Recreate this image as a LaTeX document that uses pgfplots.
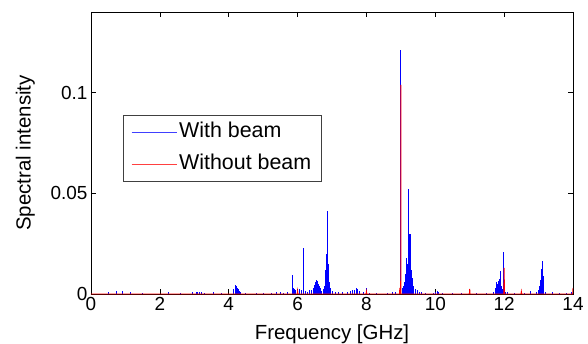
\documentclass[border=0pt]{standalone}
\usepackage{pgfplots}
\pgfplotsset{compat=1.18}
\usepackage{fontspec}
\setmainfont{Liberation Sans}
\begin{document}
\begin{tikzpicture}
\begin{axis}[
  scale only axis, width=482bp, height=282bp,
  xmin=0, xmax=14, ymin=0, ymax=0.14,
  xtick={0,2,4,6,8,10,12,14},
  ytick={0,0.05,0.1}, yticklabels={0,0.05,0.1},
  scaled y ticks=false,
  tick align=inside, major tick length=5bp,
  tick style={black, line width=0.5pt},
  axis line style={line width=0.6pt},
  tick label style={font=\fontsize{19}{21}\selectfont},
  /pgf/number format/assume math mode=true,
  xlabel={Frequency [GHz]}, ylabel={Spectral intensity},
  xlabel style={font=\fontsize{20.5}{23}\selectfont, at={(axis description cs:0.5,0)}, anchor=base, yshift=-45bp, inner sep=0pt},
  ylabel style={font=\fontsize{20.5}{23}\selectfont, at={(axis description cs:-0.1253,0.5)}, anchor=base, inner sep=0pt},
  legend style={at={(axis description cs:0.0664,0.635)}, anchor=north west,
    font=\fontsize{21.5}{24}\selectfont, draw=black!75, line width=0.6pt,
    inner xsep=8bp, inner ysep=5.5bp, row sep=9bp,
    nodes={text height=15bp, text depth=4bp, inner sep=2bp}},
  legend cell align=left,
  clip=true,
]
\addplot[blue, ycomb, line width=0.9pt, forget plot] coordinates {
(0.5,0.0012)(0.75,0.0015)(0.9,0.0013)(1.15,0.0010)(1.5,0.0005)(2.25,0.0010)(2.6,0.0004)
(2.95,0.0008)(3.05,0.0012)(3.1,0.0010)(3.15,0.0008)(3.2,0.0011)(3.3,0.0006)(3.55,0.0009)
(3.8,0.0005)(4.15,0.0025)(4.2,0.0045)(4.22,0.0040)(4.25,0.0032)(4.28,0.0025)(4.3,0.0015)
(4.35,0.0010)(4.5,0.0004)(4.8,0.0007)(5.0,0.0005)(5.25,0.0006)(5.4,0.0008)(5.5,0.0009)
(5.6,0.0006)(5.7,0.0010)(5.85,0.0092)(5.88,0.0030)(5.9,0.0025)(5.95,0.0022)(6.0,0.0020)
(6.05,0.0025)(6.1,0.0018)(6.18,0.0228)(6.22,0.0015)(6.28,0.0012)(6.35,0.0020)(6.4,0.0018)
(6.45,0.0030)(6.5,0.0045)(6.53,0.0060)(6.55,0.0068)(6.58,0.0065)(6.6,0.0050)(6.63,0.0040)
(6.65,0.0030)(6.7,0.0015)(6.75,0.0025)(6.78,0.0040)(6.8,0.0060)(6.82,0.0120)(6.84,0.0200)
(6.86,0.0410)(6.88,0.0270)(6.9,0.0150)(6.92,0.0060)(6.95,0.0030)(7.0,0.0015)(7.1,0.0012)
(7.2,0.0010)(7.3,0.0008)(7.45,0.0012)(7.55,0.0015)(7.6,0.0022)(7.65,0.0020)(7.7,0.0028)
(7.75,0.0025)(7.8,0.0015)(7.9,0.0008)(8.0,0.0030)(8.1,0.0005)(8.3,0.0006)(8.6,0.0005)
(8.75,0.0008)(8.85,0.0012)(8.95,0.0020)(9.0,0.1212)(9.05,0.0030)(9.08,0.0040)(9.1,0.0060)
(9.12,0.0080)(9.14,0.0100)(9.15,0.0120)(9.17,0.0180)(9.19,0.0150)(9.21,0.0250)(9.23,0.0520)
(9.25,0.0300)(9.27,0.0298)(9.29,0.0220)(9.31,0.0120)(9.33,0.0080)(9.35,0.0050)(9.38,0.0040)
(9.42,0.0025)(9.48,0.0020)(9.55,0.0010)(9.6,0.0008)(9.7,0.0005)(9.95,0.0006)(10.0,0.0012)
(10.05,0.0015)(10.1,0.0010)(10.2,0.0006)(10.5,0.0005)(10.75,0.0006)(11.0,0.0015)(11.2,0.0004)
(11.5,0.0005)(11.7,0.0008)(11.75,0.0030)(11.78,0.0060)(11.8,0.0050)(11.83,0.0065)(11.85,0.0075)
(11.88,0.0114)(11.9,0.0060)(11.92,0.0040)(11.95,0.0025)(11.97,0.0210)(12.0,0.0030)(12.05,0.0010)
(12.1,0.0012)(12.3,0.0006)(12.6,0.0005)(12.75,0.0015)(12.95,0.0012)(13.0,0.0020)(13.03,0.0040)
(13.05,0.0070)(13.07,0.0100)(13.09,0.0125)(13.11,0.0165)(13.13,0.0090)(13.15,0.0030)(13.2,0.0012)
(13.4,0.0008)(13.6,0.0006)(13.8,0.0005)(13.95,0.0010)
};
\addlegendimage{legend image code/.code={\draw[blue!75, line width=0.8pt] (0bp,0bp) -- (45bp,0bp);}}
\addlegendentry{With beam}
\addplot[red, line width=0.9pt, sharp plot, forget plot] coordinates {
(0,0)(5.99,0)(6.0,0.0015)(6.01,0)(7.99,0)(8.0,0.0012)(8.01,0)(8.96,0)(8.97,0.003)(8.98,0)
(8.995,0)(9.0,0.1038)(9.005,0)(10.99,0)(11.0,0.0025)(11.01,0)(11.99,0)(12.0,0.0130)(12.01,0)
(12.49,0)(12.5,0.0012)(12.51,0)(13.99,0)(14,0.003)
};
\addlegendimage{legend image code/.code={\draw[red!75, line width=0.8pt] (0bp,0bp) -- (45bp,0bp);}}
\addlegendentry{Without beam}
\end{axis}
\pgfresetboundingbox
\path (current axis.south west) ++(-91bp,-50bp) coordinate (bl);
\path (current axis.north east) ++(15bp,12bp) coordinate (tr);
\useasboundingbox (bl) rectangle (tr);
\end{tikzpicture}
\end{document}
